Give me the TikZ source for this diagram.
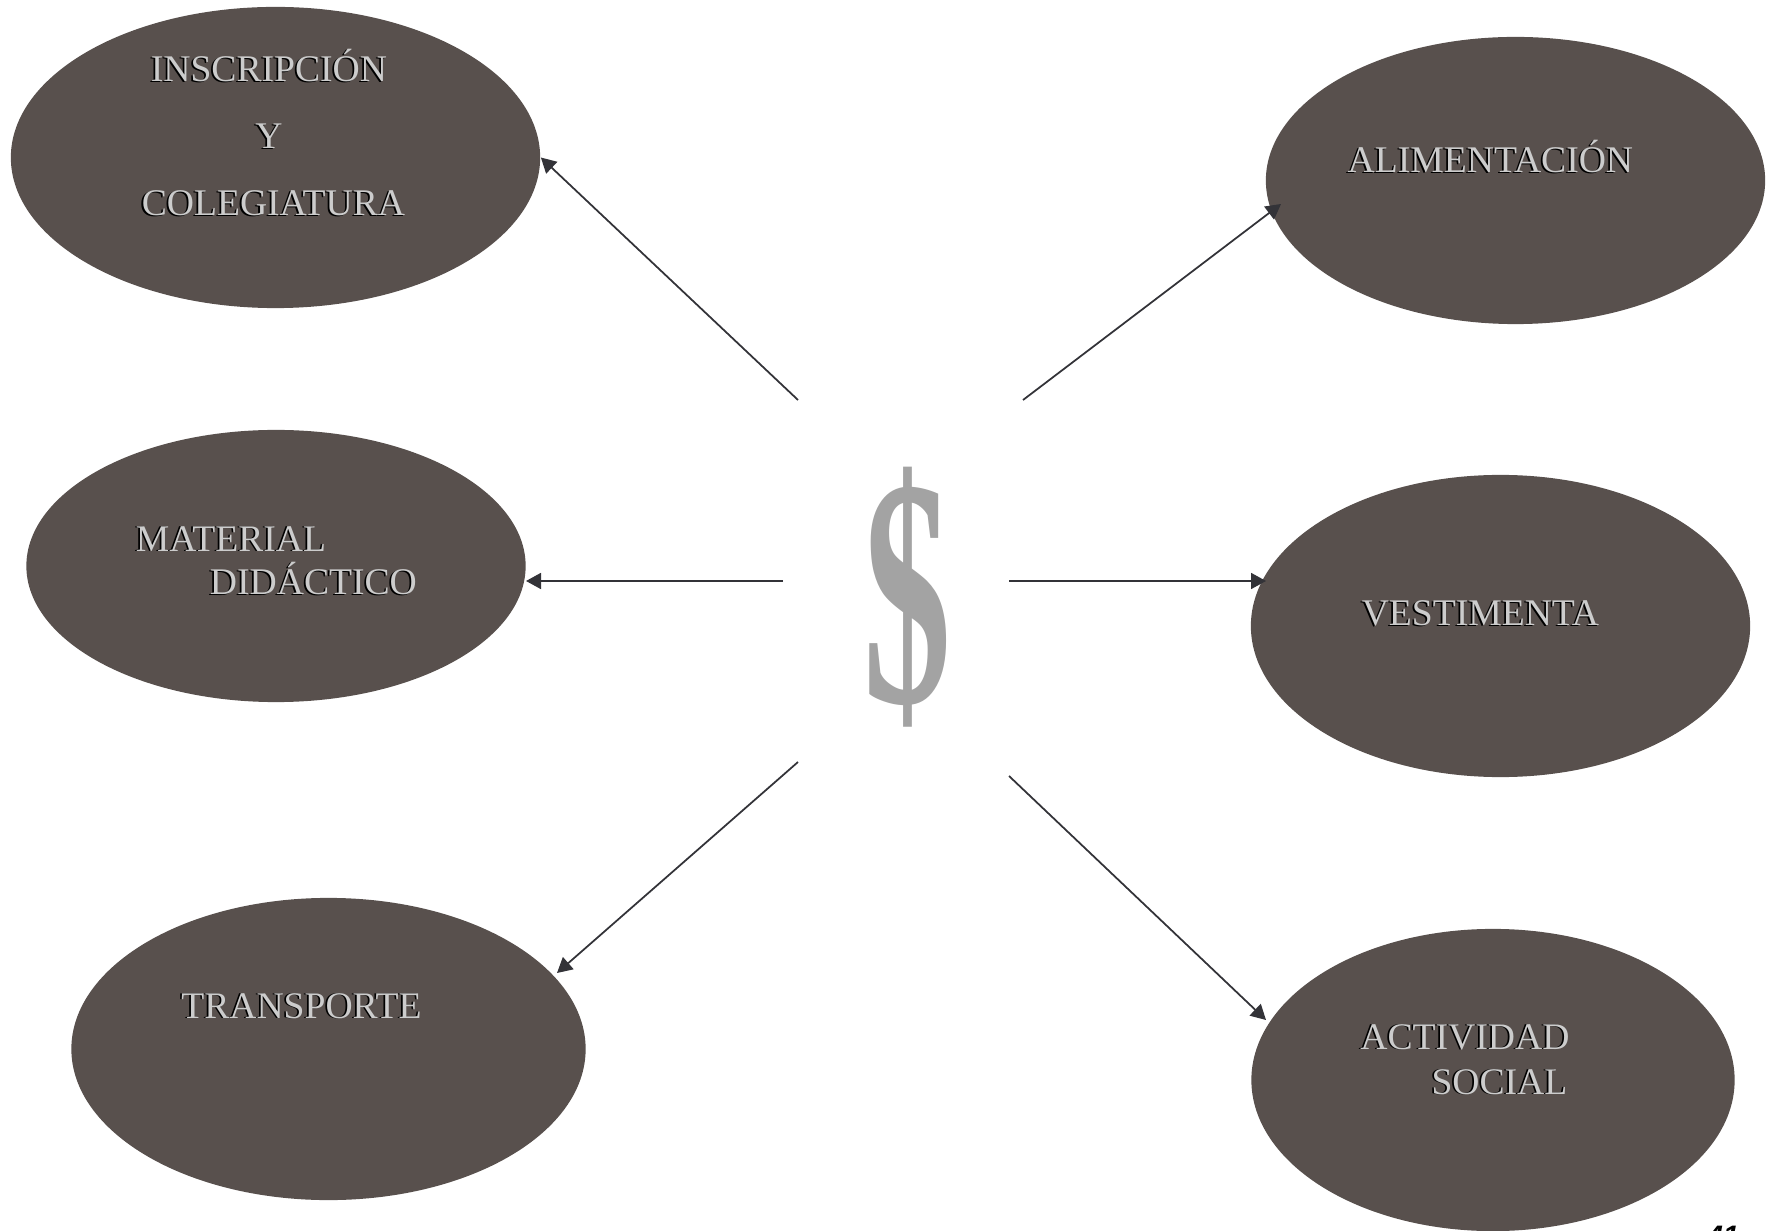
\documentclass[tikz,border=0pt]{standalone}
\usepackage{fontspec}
\usepackage{graphicx}
\setmainfont{Liberation Serif}
\newfontfamily\folio{Liberation Sans}
\usetikzlibrary{shapes.geometric}
\usetikzlibrary{arrows.meta}
\tikzset{>={Triangle[length=0.15cm,width=0.16cm]}}
\definecolor{pardo}{HTML}{58504D}
\definecolor{flecha}{HTML}{333338}
\newcommand{\grabado}[1]{\makebox[0pt][l]{\hspace{-0.25pt}\raisebox{-0.25pt}{\textcolor{black}{#1}}}\hspace{0.25pt}\textcolor{black!20}{#1}\hspace{-0.25pt}}
\tikzset{
    gasto/.style={ellipse, fill=pardo, inner sep=0pt},
    rotulo/.style={anchor=base, inner sep=0pt, font=\fontsize{10.7}{12}\selectfont},
    flechita/.style={->, draw=flecha, fill=flecha, line width=0.5pt}
}

\begin{document}
\begin{tikzpicture}[x=0.01cm, y=-0.01cm]
            \useasboundingbox (0,0) rectangle (1767,1231);
            \clip (0,0) rectangle (1767,1231);

            %ellipses
            \node[gasto, minimum width=5.29cm, minimum height=3.01cm] (inscripcion) at (275.5,157.5) {};
            \node[gasto, minimum width=4.99cm, minimum height=2.87cm] (alimentacion) at (1515.5,180.5) {};
            \node[gasto, minimum width=4.99cm, minimum height=2.72cm] (material) at (276,566) {};
            \node[gasto, minimum width=4.99cm, minimum height=3.02cm] (vestimenta) at (1500.5,626) {};
            \node[gasto, minimum width=5.14cm, minimum height=3.02cm] (transporte) at (328.5,1049) {};
            \node[gasto, minimum width=4.83cm, minimum height=3.02cm] (actividad) at (1493,1080) {};

            %labels
            \node[rotulo] (t1) at (268.5,82) {\grabado{INSCRIPCIÓN}};
            \node[rotulo] (t2) at (268.5,149) {\grabado{Y}};
            \node[rotulo] (t3) at (273,216) {\grabado{COLEGIATURA}};
            \node[rotulo] (t4) at (1490,173) {\grabado{ALIMENTACIÓN}};
            \node[rotulo] (t5) at (230.5,551) {\grabado{MATERIAL}};
            \node[rotulo] (t6) at (313,595) {\grabado{DIDÁCTICO}};
            \node[rotulo] (t7) at (1480,626) {\grabado{VESTIMENTA}};
            \node[rotulo] (t8) at (301,1018) {\grabado{TRANSPORTE}};
            \node[rotulo] (t9) at (1464.5,1049) {\grabado{ACTIVIDAD}};
            \node[rotulo] (t10) at (1499,1094) {\grabado{SOCIAL}};

            %dollar sign
            \node[inner sep=0pt, text=black!36] (dollar) at (908,597) {\resizebox{0.88cm}{2.35cm}{\bfseries\$}};

            %free ends around the dollar
            \coordinate (a1) at (798,400);
            \coordinate (a2) at (1023,400);
            \coordinate (a3) at (783,581);
            \coordinate (a4) at (1009,581);
            \coordinate (a5) at (798,762);
            \coordinate (a6) at (1009,776);

            %tips
            \coordinate (b2) at (1281,204);
            \coordinate (b3) at (526,581);
            \coordinate (b4) at (1266,581);
            \coordinate (b5) at (557,973);
            \coordinate (b6) at (1266,1020);

            %arrows
            \draw[flechita] (a1) -- (inscripcion.east);
            \draw[flechita] (a2) -- (b2);
            \draw[flechita] (a3) -- (b3);
            \draw[flechita] (a4) -- (b4);
            \draw[flechita] (a5) -- (b5);
            \draw[flechita] (a6) -- (b6);

            %page number
            \node[anchor=base, inner sep=0pt, font=\folio\bfseries\itshape\fontsize{8}{10}\selectfont] (folio) at (1723,1245) {41};
\end{tikzpicture}
\end{document}
